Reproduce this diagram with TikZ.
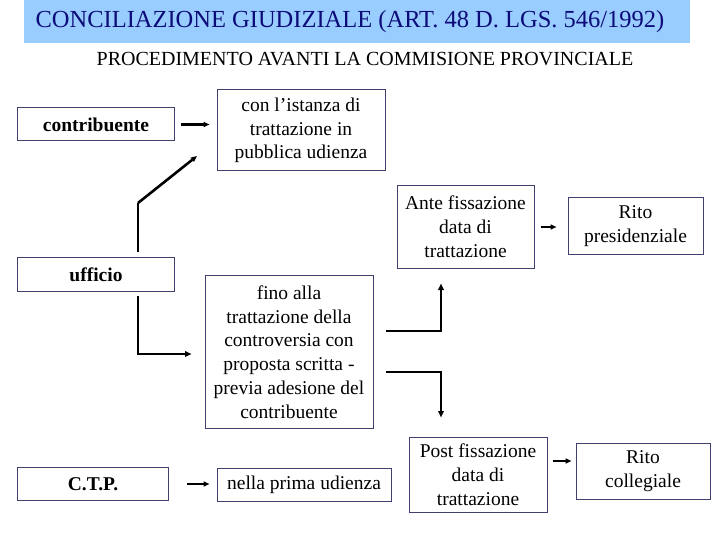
\documentclass[tikz,border=0pt]{standalone}
\usepackage{fontspec}
\setmainfont{Liberation Serif}
\usetikzlibrary{arrows.meta}

\definecolor{barblue}{RGB}{153,204,255}
\definecolor{titlenavy}{RGB}{12,12,120}
\definecolor{edgeblue}{RGB}{64,64,112}
\newcommand{\boxfont}{\fontsize{19.5bp}{23.8bp}\selectfont}

\begin{document}
\begin{tikzpicture}[x=1bp, y=-1bp,
    box/.style={draw=edgeblue, line width=1bp, align=center, inner sep=0pt, font=\boxfont},
    bbox/.style={box, font=\boxfont\bfseries},
    arr/.style={-{Triangle[length=6bp,width=5bp]}, line width=2.2bp},
    conn/.style={-{Triangle[length=6.5bp,width=5.5bp]}, line width=1.6bp}
]
\useasboundingbox (0,0) rectangle (720,540);

% title
\fill[barblue] (24,0) rectangle (690,43);
\node[text=titlenavy, font=\fontsize{24.5bp}{28bp}\selectfont] (title) at (350,22)
    {CONCILIAZIONE GIUDIZIALE (ART. 48 D. LGS. 546/1992)};
\node[font=\fontsize{20bp}{24bp}\selectfont] (sub) at (365,59)
    {PROCEDIMENTO AVANTI LA COMMISIONE PROVINCIALE};

% left column
\node[bbox, minimum width=156bp, minimum height=33bp] (contrib) at (96,124.5) {contribuente};
\node[bbox, minimum width=156bp, minimum height=33bp] (ufficio) at (96,274.5) {ufficio};
\node[bbox, minimum width=150bp, minimum height=33bp] (ctp) at (93,484) {C.T.P.};

% middle column
\node[box, minimum width=168bp, minimum height=81bp] (istanza) at (301,130.5)
    {con l’istanza di\\trattazione in\\pubblica udienza};
\node[box, minimum width=168bp, minimum height=152bp] (fino) at (289,352)
    {fino alla\\trattazione della\\controversia con\\proposta scritta -\\previa adesione del\\contribuente};
\node[box, minimum width=174bp, minimum height=33bp] (nella) at (304,484.5) {nella prima udienza};

% right columns
\node[box, minimum width=137bp, minimum height=82bp] (ante) at (465.5,227)
    {Ante fissazione\\data di\\trattazione};
\node[box, minimum width=138bp, minimum height=75bp] (post) at (478,474.5)
    {Post fissazione\\data di\\trattazione};
\node[box, minimum width=135bp, minimum height=56bp] (ritop) at (635.5,226)
    {Rito\\presidenziale};
\node[box, minimum width=134bp, minimum height=56bp] (ritoc) at (643,471)
    {Rito\\collegiale};

% short arrows
\draw[arr, shorten <=6bp, shorten >=7bp] (contrib.east) -- (contrib.east -| istanza.west);
\draw[arr, shorten <=6bp, shorten >=11bp] (ante.east) -- (ante.east -| ritop.west);
\draw[arr, shorten <=18bp, shorten >=7bp] (ctp.east) -- (ctp.east -| nella.west);
\coordinate (postout) at ([yshift=13.5bp]post.east);
\draw[arr, shorten <=5bp, shorten >=4bp] (postout) -- (postout -| ritoc.west);

% connectors from ufficio
\coordinate (ufup) at (138,203);
\coordinate (ufin) at (197,156);
\draw[line width=1.6bp, shorten <=5bp] (ufficio.north -| ufup) -- (ufup);
\draw[arr, line width=2.6bp] (ufup) -- (ufin);
\coordinate (ufdn) at (138,354);
\draw[conn, shorten <=4bp, shorten >=13bp] (ufficio.south -| ufdn) -- (ufdn) -- (ufdn -| fino.west);

% connectors from fino
\coordinate (antein) at (441,331);
\draw[conn, shorten <=12bp, shorten >=15bp] (antein -| fino.east) -- (antein) -- (antein |- ante.south);
\coordinate (postin) at (441,372);
\draw[conn, shorten <=12bp, shorten >=19bp] (postin -| fino.east) -- (postin) -- (postin |- post.north);

\end{tikzpicture}
\end{document}
